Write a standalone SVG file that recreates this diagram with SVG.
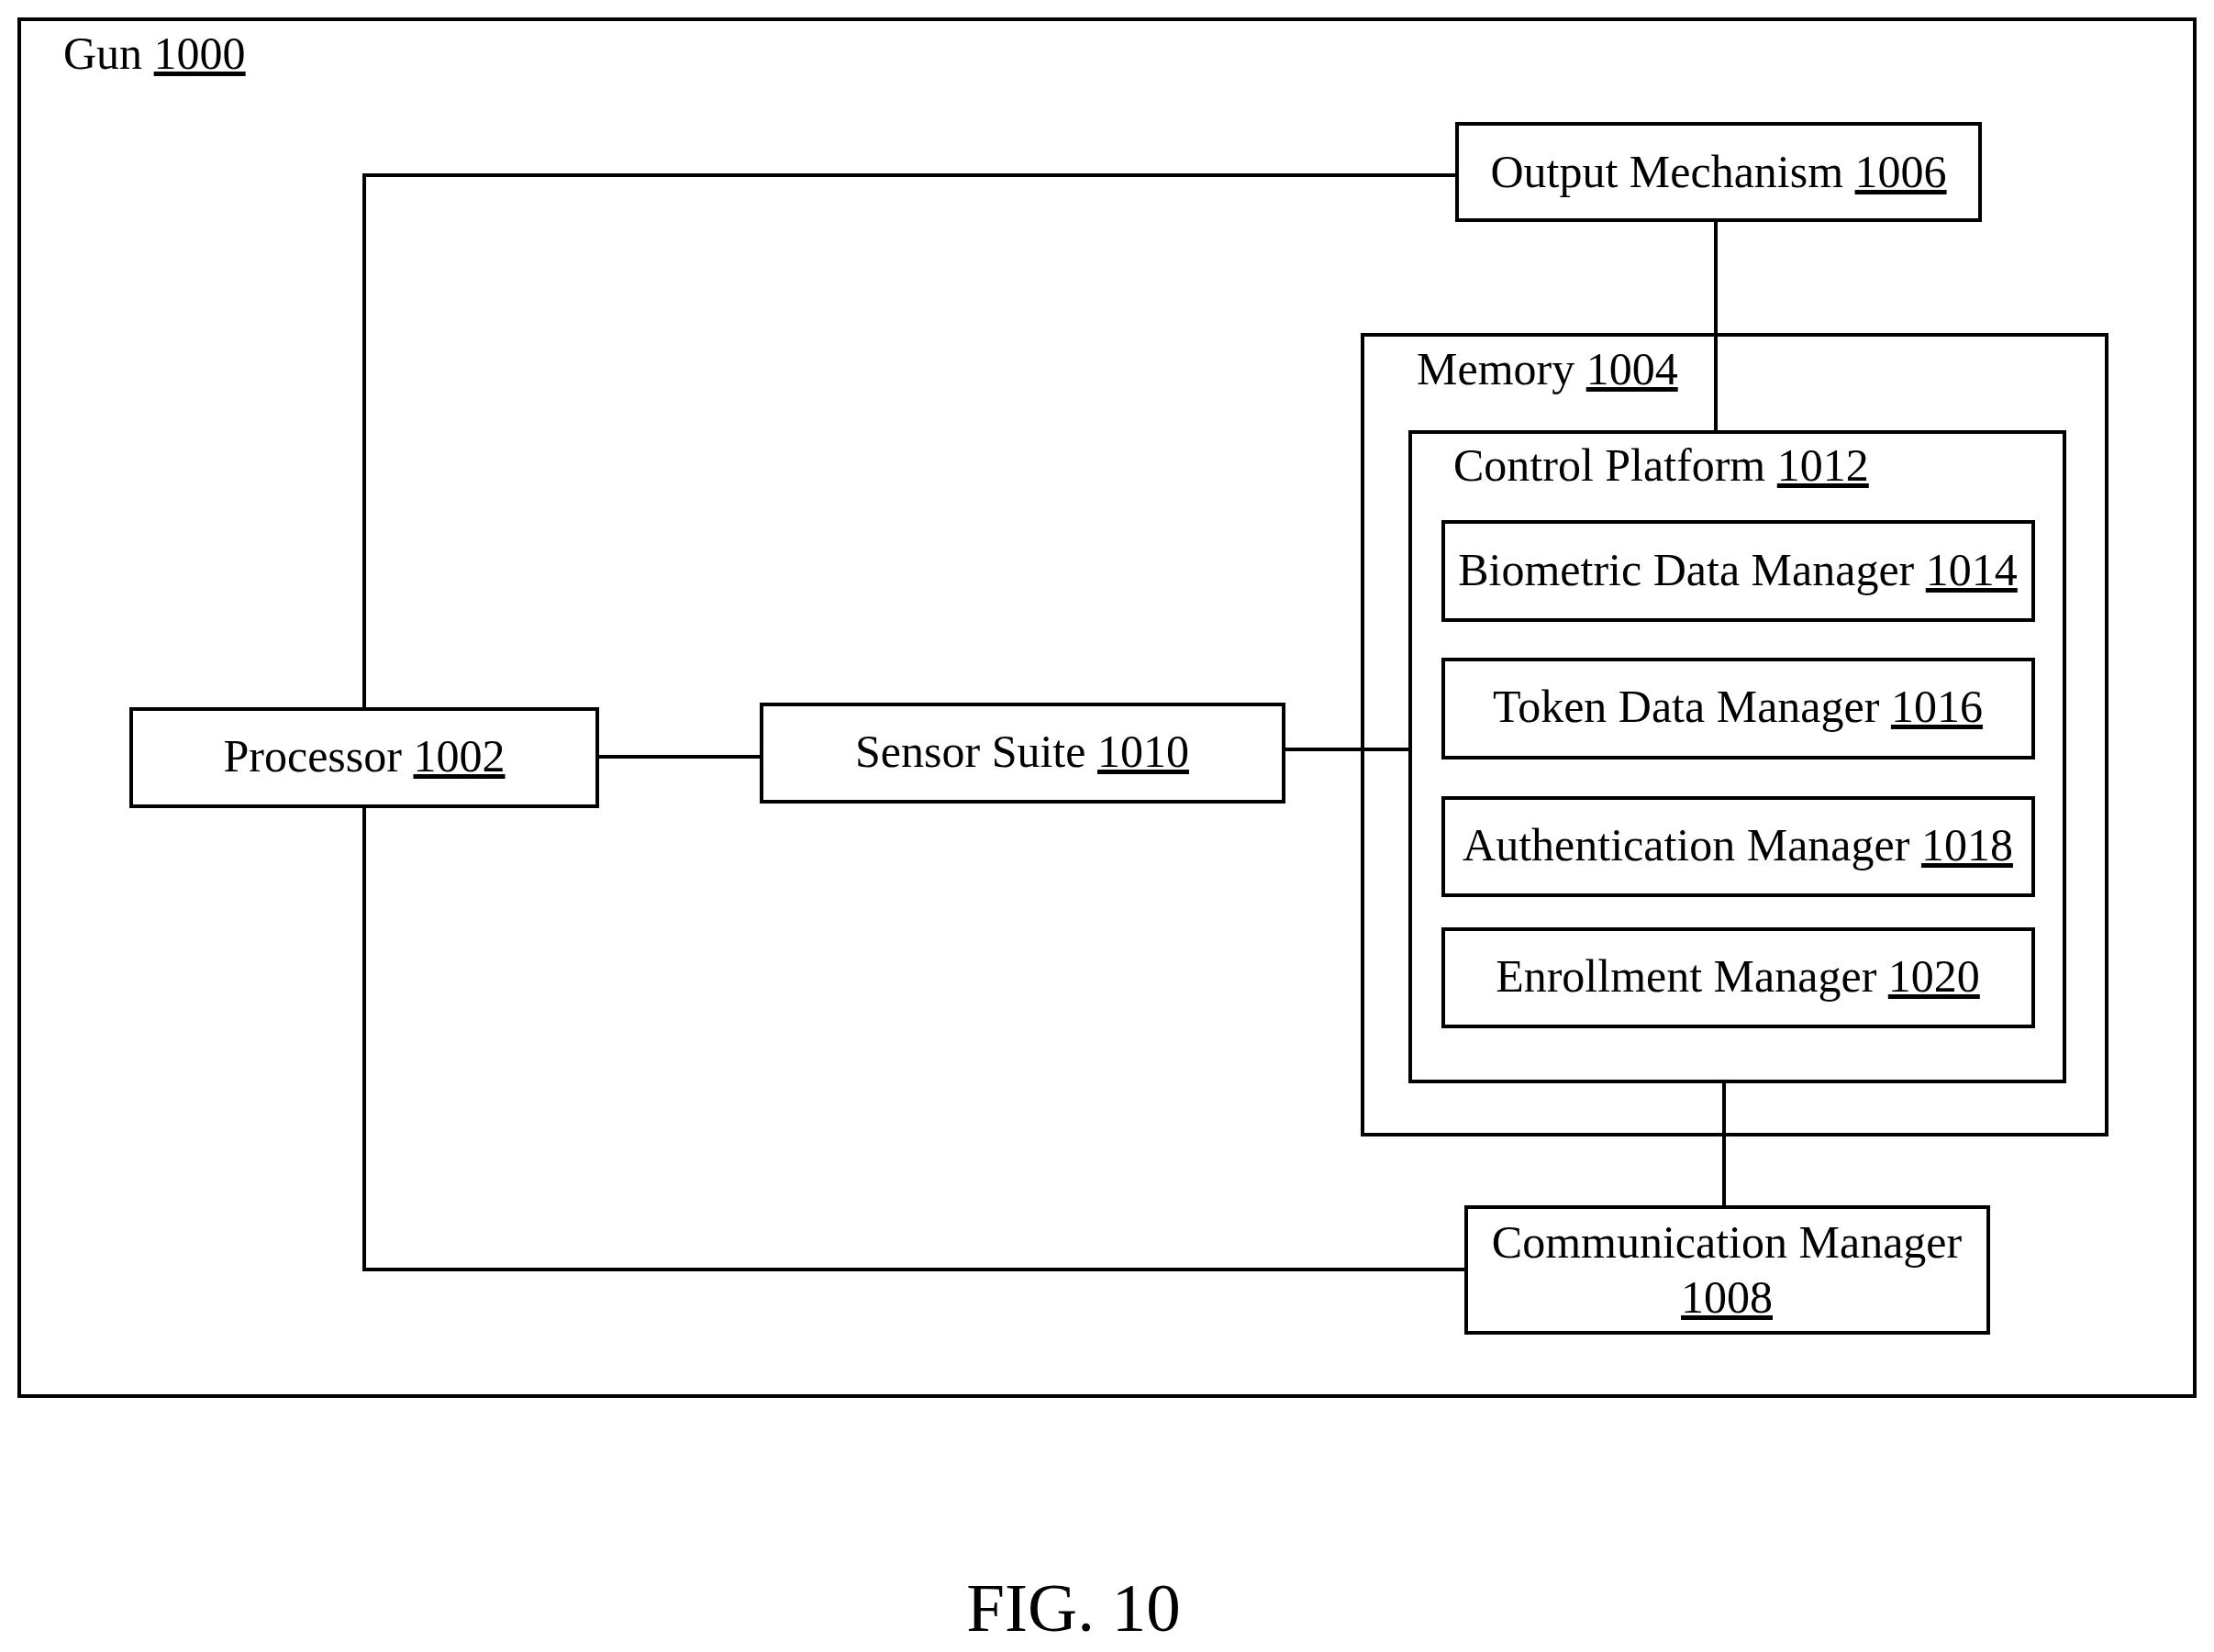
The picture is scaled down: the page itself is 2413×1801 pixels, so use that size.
<svg xmlns="http://www.w3.org/2000/svg" width="2413" height="1801" viewBox="0 0 2413 1801">
<style>
rect{fill:none;stroke:#000;stroke-width:4}
line,polyline{fill:none;stroke:#000;stroke-width:4}
text{font-family:"Liberation Serif",serif;font-size:50px;fill:#000}
.c{text-anchor:middle}
.u{text-decoration:underline}
</style>
<rect width="2413" height="1801" style="fill:#fff;stroke:none"/>
<g id="connectors">
<polyline points="397,773 397,191 1588,191"/>
<line x1="1870" y1="240" x2="1870" y2="471"/>
<line x1="651" y1="825" x2="830" y2="825"/>
<line x1="1399" y1="817" x2="1537" y2="817"/>
<line x1="1879" y1="1179" x2="1879" y2="1316"/>
<polyline points="397,879 397,1384 1598,1384"/>
</g>
<g id="gun"><rect x="21" y="21" width="2371" height="1501"/><text x="69" y="75">Gun <tspan class="u">1000</tspan></text></g>
<g id="output"><rect x="1588" y="135" width="570" height="105"/><text class="c" x="1873" y="204">Output Mechanism <tspan class="u">1006</tspan></text></g>
<g id="memory"><rect x="1485" y="365" width="811" height="872"/><text x="1544" y="419">Memory <tspan class="u">1004</tspan></text></g>
<g id="control"><rect x="1537" y="471" width="713" height="708"/><text x="1584" y="524">Control Platform <tspan class="u">1012</tspan></text></g>
<g id="biometric"><rect x="1573" y="569" width="643" height="107"/><text class="c" x="1894" y="638">Biometric Data Manager <tspan class="u">1014</tspan></text></g>
<g id="token"><rect x="1573" y="719" width="643" height="107"/><text class="c" x="1894" y="787">Token Data Manager <tspan class="u">1016</tspan></text></g>
<g id="auth"><rect x="1573" y="870" width="643" height="106"/><text class="c" x="1894" y="938">Authentication Manager <tspan class="u">1018</tspan></text></g>
<g id="enroll"><rect x="1573" y="1013" width="643" height="106"/><text class="c" x="1894" y="1081">Enrollment Manager <tspan class="u">1020</tspan></text></g>
<g id="processor"><rect x="143" y="773" width="508" height="106"/><text class="c" x="397" y="841">Processor <tspan class="u">1002</tspan></text></g>
<g id="sensor"><rect x="830" y="768" width="569" height="106"/><text class="c" x="1114" y="836">Sensor Suite <tspan class="u">1010</tspan></text></g>
<g id="comm"><rect x="1598" y="1316" width="569" height="137"/><text class="c" x="1882" y="1371">Communication Manager</text><text class="c u" x="1882" y="1431">1008</text></g>
<text class="c" x="1170" y="1778" style="font-size:75px">FIG. 10</text>
</svg>
